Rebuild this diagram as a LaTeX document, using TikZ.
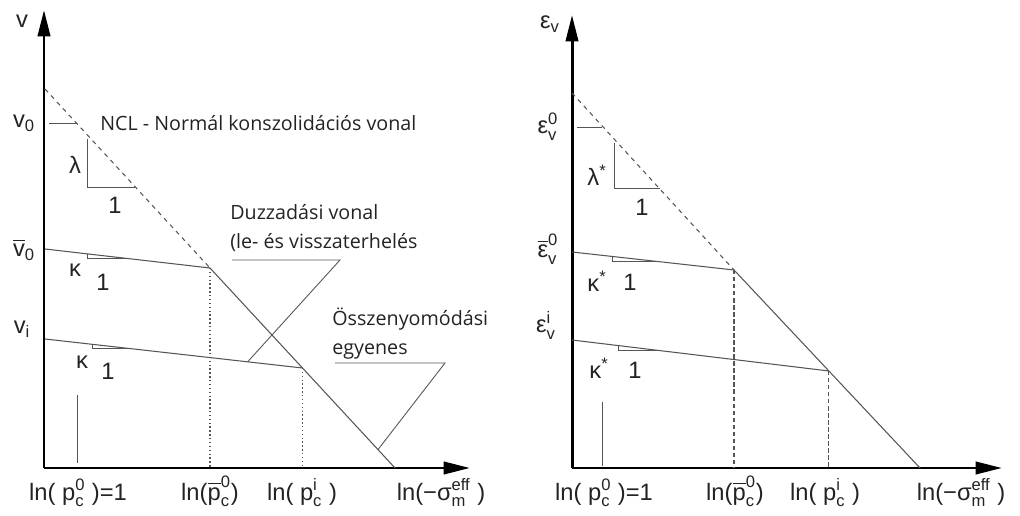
\documentclass[tikz,border=0pt]{standalone}
\usepackage{amsmath}
\usepackage{fontspec}
\setmainfont{Liberation Sans}
\newfontfamily\notefont{Open Sans}
\usetikzlibrary{arrows.meta,calc}
\definecolor{LineGray}{RGB}{85,85,85}
\definecolor{TextGray}{RGB}{35,35,35}
\tikzset{
  axis/.style={line width=1.7pt, -{Triangle[length=15pt,width=7pt]}},
  curve/.style={LineGray, line width=0.6pt},
  nclline/.style={curve, dash pattern=on 2.5pt off 2.5pt},
  guideL/.style={LineGray, line width=0.6pt, dash pattern=on 0.8pt off 1.4pt},
  guideR/.style={LineGray, line width=0.6pt, dash pattern=on 2.5pt off 1.5pt},
  slope/.style={LineGray, line width=0.5pt},
  lab/.style={font=\fontsize{13.5}{15}\selectfont, text=TextGray, inner sep=0pt},
  note/.style={font=\notefont\fontsize{11.2}{16.5}\selectfont, text=TextGray, inner sep=0pt,
    align=left, anchor=west},
}

\begin{document}
\begin{tikzpicture}[x=0.02cm, y=-0.02cm]
\useasboundingbox (0,0) rectangle (1020,516);

% left diagram: v -- ln p
\coordinate (O1) at (44,468);
\coordinate (Y1) at (44,10);
\coordinate (X1) at (470,468);
\coordinate (N1) at (45,89);
\coordinate (B1) at (210,268);
\coordinate (E1) at (395,468);
\coordinate (V1) at (45,249);
\coordinate (I1) at (45,339);
\coordinate (P1) at ($(B1)!0.5!(E1)$);

\draw[axis] (O1) -- (Y1);
\draw[axis] (O1) -- (X1);
\draw[nclline] (N1) -- (B1);
\draw[curve] (B1) -- (E1);
\draw[curve] (V1) -- (B1);
\draw[curve] (I1) -- (P1);
\draw[guideL] (B1) -- (B1 |- O1);
\draw[guideL] (P1) -- (P1 |- O1);
\draw[slope] (49,123) -- (77,123);
\draw[slope] (77,395) -- (77,463);
\draw[slope] (87,139) |- (135,187);
\draw[slope] ($(V1)!0.255!(B1)$) |- ($(V1)!0.497!(B1)$);
\draw[slope] ($(I1)!0.183!(P1)$) |- ($(I1)!0.339!(P1)$);

\node[lab] (vL) at (22,21) {v};
\node[lab, anchor=base] (v0L) at (24,128) {v$_{\text{0}}$};
\node[lab, anchor=base] (vbL) at (24,257) {$\overline{\text{v}}_{\text{0}}$};
\node[lab, anchor=base] (viL) at (22,334) {v$_{\text{i}}$};
\node[lab] (lamL) at (75,165) {λ};
\node[lab] (lamoneL) at (115,205) {1};
\node[lab] (kapL) at (75,270) {κ};
\node[lab] (kaponeL) at (103,282) {1};
\node[lab] (kapiL) at (82,362) {κ};
\node[lab] (kapioneL) at (108,371) {1};

\node[note] (ncl) at (100,123) {NCL - Normál konszolidációs vonal};
\node[note] (duz) at (230,228) {Duzzadási vonal\\(le- és visszaterhelés};
\node[note] (osz) at (332,334) {Összenyomódási\\egyenes};
\coordinate (duzA) at (232,260);
\coordinate (duzB) at (340,260);
\coordinate (duzC) at ($(I1)!0.787!(P1)$);
\draw[slope] (duzA) -- (duzB) -- (duzC);
\coordinate (oszA) at (335,363);
\coordinate (oszB) at (445,363);
\coordinate (oszC) at ($(B1)!0.908!(E1)$);
\draw[slope] (oszA) -- (oszB) -- (oszC);

\node[lab, anchor=base] (p0L) at (78,500) {ln( p$^{\text{0}}_{\text{c}}$ )=1};
\node[lab, anchor=base] (pbL) at (210,500) {ln($\overline{\text{p}}^{\text{0}}_{\text{c}}$)};
\node[lab, anchor=base] (piL) at (302,500) {ln( p$^{\text{i}}_{\text{c}}$ )};
\node[lab, anchor=base] (sigL) at (441,500) {ln(−σ$^{\text{eff}}_{\text{m}}$ )};

% right diagram: eps_v -- ln p
\coordinate (O2) at (572,468);
\coordinate (Y2) at (572,15);
\coordinate (X2) at (1002,468);
\coordinate (N2) at (572,93);
\coordinate (B2) at (734,270);
\coordinate (E2) at (920,468);
\coordinate (V2) at (572,252);
\coordinate (I2) at (572,340);
\coordinate (P2) at ($(B2)!0.51!(E2)$);

\draw[axis] (O2) -- (Y2);
\draw[axis] (O2) -- (X2);
\draw[nclline] (N2) -- (B2);
\draw[curve] (B2) -- (E2);
\draw[curve] (V2) -- (B2);
\draw[curve] (I2) -- (P2);
\draw[guideR] (B2) -- (B2 |- O2);
\draw[guideR] (P2) -- (P2 |- O2);
\draw[slope] (577,127) -- (602,127);
\draw[slope] (602,402) -- (602,466);
\draw[slope] (614,143) |- (660,188);
\draw[slope] ($(V2)!0.247!(B2)$) |- ($(V2)!0.512!(B2)$);
\draw[slope] ($(I2)!0.179!(P2)$) |- ($(I2)!0.342!(P2)$);

\node[lab] (eR) at (550,24) {ε$_{\text{v}}$};
\node[lab, anchor=base] (e0R) at (548,134) {ε$^{\text{0}}_{\text{v}}$};
\node[lab, anchor=base] (ebR) at (548,258) {$\overline{\text{ε}}^{\text{0}}_{\text{v}}$};
\node[lab, anchor=base] (eiR) at (546,333) {ε$^{\text{i}}_{\text{v}}$};
\node[lab] (lamR) at (597,175) {λ$^{\text{*}}$};
\node[lab] (lamoneR) at (642,207) {1};
\node[lab] (kapR) at (597,281) {κ$^{\text{*}}$};
\node[lab] (kaponeR) at (630,282) {1};
\node[lab] (kapiR) at (599,368) {κ$^{\text{*}}$};
\node[lab] (kapioneR) at (635,370) {1};

\node[lab, anchor=base] (p0R) at (604,500) {ln( p$^{\text{0}}_{\text{c}}$ )=1};
\node[lab, anchor=base] (pbR) at (735,500) {ln($\overline{\text{p}}^{\text{0}}_{\text{c}}$)};
\node[lab, anchor=base] (piR) at (825,500) {ln( p$^{\text{i}}_{\text{c}}$ )};
\node[lab, anchor=base] (sigR) at (961,500) {ln(−σ$^{\text{eff}}_{\text{m}}$ )};
\end{tikzpicture}
\end{document}
